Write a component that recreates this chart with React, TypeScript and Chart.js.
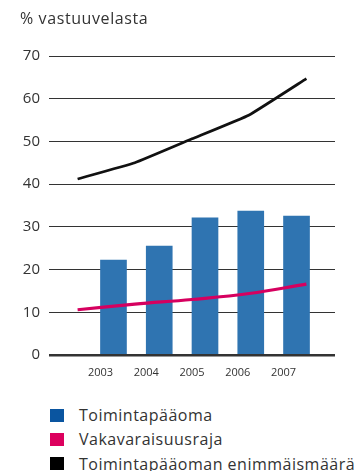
import React, { useEffect, useRef } from "react";
import { Chart, registerables } from "chart.js";

Chart.register(...registerables);

const years = ["2003", "2004", "2005", "2006", "2007"];
const toimintapaaoma = [22.2, 25.5, 32.1, 33.7, 32.5];
const vakavaraisuusraja = [10.6, 11.9, 13.0, 14.4, 16.6];
const enimmaismaara = [41.2, 45.0, 50.6, 56.2, 64.7];
const yTicks = [0, 10, 20, 30, 40, 50, 60, 70];
const yTitle = "% vastuuvelasta";
const legendItems = [
  { label: "Toimintapääoma", color: "#0a55a0" },
  { label: "Vakavaraisuusraja", color: "#dc005e" },
  { label: "Toimintapääoman enimmäismäärä", color: "#000000" },
];

const FONT = "'Open Sans', 'DejaVu Sans', sans-serif";

export default function App() {
  const ref = useRef<HTMLCanvasElement | null>(null);

  useEffect(() => {
    if (!ref.current) return;
    const chart = new Chart(ref.current, {
      type: "bar",
      data: {
        labels: years,
        datasets: [
          {
            type: "line",
            label: "Toimintapääoman enimmäismäärä",
            data: enimmaismaara,
            xAxisID: "x2",
            borderColor: "#111111",
            borderWidth: 2.7,
            pointRadius: 0,
            tension: 0.1,
            fill: false,
            order: 1,
          } as any,
          {
            type: "line",
            label: "Vakavaraisuusraja",
            data: vakavaraisuusraja,
            xAxisID: "x2",
            borderColor: "#d6005f",
            borderWidth: 3.2,
            pointRadius: 0,
            tension: 0.4,
            fill: false,
            order: 1,
          } as any,
          {
            type: "bar",
            label: "Toimintapääoma",
            data: toimintapaaoma.map((v, i) => ({ x: i, y: v })),
            xAxisID: "x",
            backgroundColor: "#2f74b1",
            borderWidth: 0,
            barThickness: 26,
            order: 2,
          } as any,
        ],
      },
      options: {
        responsive: false,
        animation: false,
        devicePixelRatio: 1,
        layout: { padding: { left: 0, right: 27, top: 56, bottom: 0 } },
        plugins: {
          legend: { display: false },
          tooltip: { enabled: false },
          title: { display: false },
        },
        scales: {
          x: {
            type: "linear",
            position: "bottom",
            offset: false,
            min: -1.125,
            max: 5.125,
            afterBuildTicks: (s: any) => {
              s.ticks = years.map((_, i) => ({ value: i }));
            },
            afterFit: (s: any) => {
              s.height = 35;
            },
            grid: { display: false, offset: false },
            border: { display: false },
            ticks: {
              autoSkip: false,
              maxRotation: 0,
              padding: 3,
              color: "#333333",
              font: { family: FONT, size: 11 },
              callback: (v: any) => years[v] ?? "",
            },
          },
          x2: {
            type: "category",
            labels: years,
            display: false,
            offset: true,
          },
          y: {
            min: 0,
            max: 70,
            afterBuildTicks: (s: any) => {
              s.ticks = yTicks.map((v) => ({ value: v }));
            },
            afterFit: (s: any) => {
              s.width = 49;
            },
            border: { display: false },
            grid: {
              color: "#333333",
              lineWidth: (ctx: any) => (ctx.tick && ctx.tick.value === 0 ? 2.6 : 1),
              drawTicks: false,
            },
            ticks: {
              padding: 9,
              color: "#333333",
              font: { family: FONT, size: 15 },
            },
          },
        },
      },
    });
    return () => chart.destroy();
  }, []);

  return (
    <div
      style={{
        position: "absolute",
        left: 0,
        top: 0,
        width: 362,
        height: 471,
        background: "#ffffff",
        fontFamily: FONT,
        color: "#333333",
        overflow: "hidden",
      }}
    >
      <canvas ref={ref} width={362} height={390} style={{ display: "block", position: "absolute", left: 0, top: 0 }} />
      <div
        style={{
          position: "absolute",
          left: 20,
          top: 8,
          fontSize: 16,
          lineHeight: "20px",
          letterSpacing: 0.6,
          whiteSpace: "nowrap",
        }}
      >
        {yTitle}
      </div>
      {legendItems.map((it, i) => (
        <div
          key={it.label}
          style={{
            position: "absolute",
            left: 50,
            top: 404 + i * 24.4,
            height: 22,
            display: "flex",
            alignItems: "center",
            whiteSpace: "nowrap",
          }}
        >
          <span style={{ display: "inline-block", width: 14, height: 13, background: it.color }} />
          <span style={{ marginLeft: 15, fontSize: 16, letterSpacing: 0.5, lineHeight: "22px" }}>{it.label}</span>
        </div>
      ))}
    </div>
  );
}
